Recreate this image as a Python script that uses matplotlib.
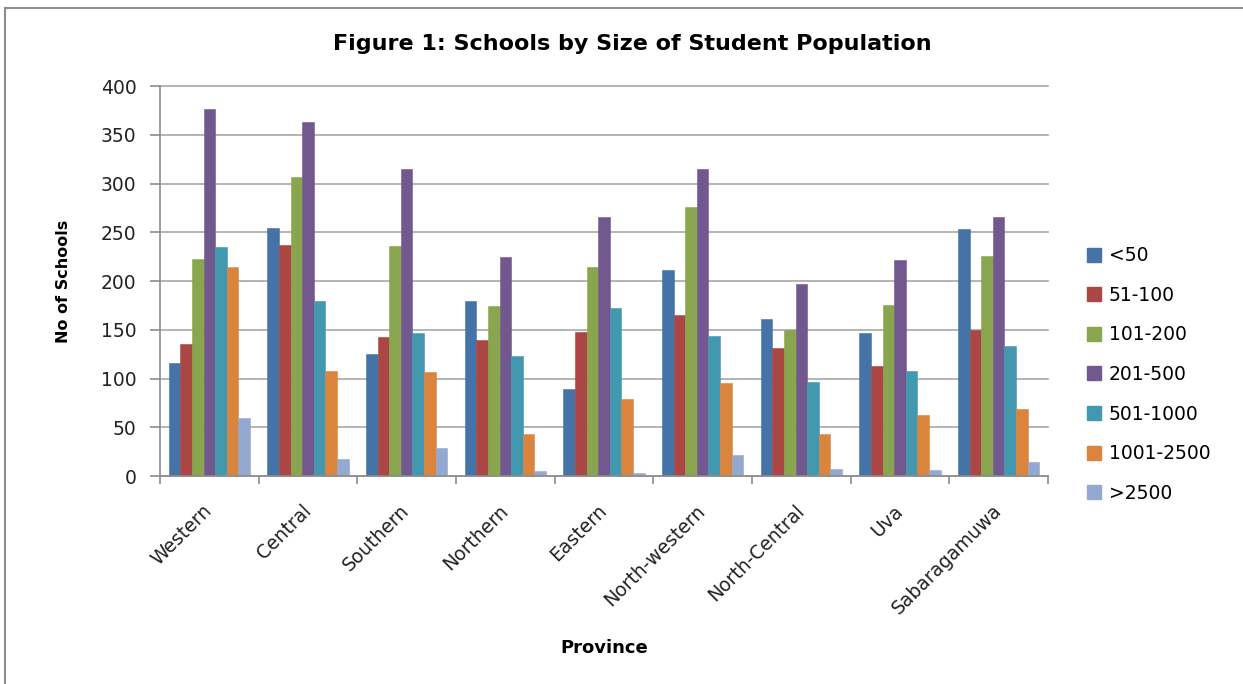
import numpy as np
import matplotlib
matplotlib.use("Agg")
import matplotlib.pyplot as plt
from matplotlib.lines import Line2D

plt.rcParams['font.family'] = ['DejaVu Sans']

# DATA
provinces = ['Western', 'Central', 'Southern', 'Northern', 'Eastern',
             'North-western', 'North-Central', 'Uva', 'Sabaragamuwa']
size_bands = ['<50', '51-100', '101-200', '201-500', '501-1000', '1001-2500', '>2500']

lt50 = [116, 255, 125, 180, 89, 211, 161, 147, 253]
s51_100 = [135, 237, 143, 140, 148, 165, 131, 113, 150]
s101_200 = [223, 307, 236, 174, 215, 276, 150, 175, 226]
s201_500 = [377, 363, 315, 225, 266, 315, 197, 222, 266]
s501_1000 = [235, 180, 147, 123, 172, 144, 96, 108, 133]
s1001_2500 = [214, 108, 107, 43, 79, 95, 43, 63, 69]
gt2500 = [60, 17, 29, 5, 3, 22, 7, 6, 14]

series = [lt50, s51_100, s101_200, s201_500, s501_1000, s1001_2500, gt2500]
colors = ['#4572A7', '#AA4643', '#89A54E', '#71588F', '#4198AF', '#DB843D', '#93A9CF']

# FIGURE
fig = plt.figure(figsize=(12.43, 6.84), dpi=100)
ax = fig.add_axes([0.1287, 0.304, 0.7144, 0.570])

x = np.arange(len(provinces))
bw = 0.1175
offsets = (np.arange(len(series)) - 3) * bw
for vals, off, col, lab in zip(series, offsets, colors, size_bands):
    ax.bar(x + off, vals, width=bw, color=col, label=lab,
           edgecolor=col, linewidth=0.4)

ax.set_xlim(-0.5, len(provinces) - 0.5)
ax.set_ylim(0, 400)
ax.set_yticks(np.arange(0, 401, 50))
ax.yaxis.grid(True, color='#A8A8A8', linewidth=1.2)
ax.set_axisbelow(True)
for gl in ax.get_ygridlines():
    gl.set_clip_on(False)

for s in ['top', 'right']:
    ax.spines[s].set_visible(False)
for s in ['left', 'bottom']:
    ax.spines[s].set_color('#8C8C8C')
    ax.spines[s].set_linewidth(1.2)

# category ticks sit on the group boundaries, labels at the centers
ax.set_xticks(x)
ax.set_xticks(np.arange(-0.5, len(provinces), 1), minor=True)
ax.tick_params(axis='x', which='major', length=0, pad=23)
ax.tick_params(axis='x', which='minor', length=6, color='#8C8C8C', width=1.2, direction='out')
ax.set_xticklabels(provinces, rotation=45, ha='right', va='center',
                   rotation_mode='anchor', fontsize=13.5, color='#222222')
ax.tick_params(axis='y', length=7, color='#8C8C8C', width=1.2, labelsize=13.5,
               labelcolor='#222222', pad=10)

ax.set_ylabel('No of Schools', fontsize=11.5, fontweight='bold')
ax.yaxis.set_label_coords(-0.100, 0.5)
fig.text(0.486, 0.053, 'Province', ha='center', va='center', fontsize=13, fontweight='bold')
fig.text(0.509, 0.936, 'Figure 1: Schools by Size of Student Population',
         ha='center', va='center', fontsize=16, fontweight='bold')

handles = [Line2D([0], [0], marker='s', linestyle='none', markersize=10,
                  markerfacecolor=c, markeredgecolor=c) for c in colors]
fig.legend(handles, size_bands, loc='center left', bbox_to_anchor=(0.874, 0.4525),
           frameon=False, fontsize=13.5, labelspacing=1.1, handlelength=0.8,
           handletextpad=0.4, borderpad=0, borderaxespad=0)

# outer chart frame (top and left edges visible in the original crop)
fig.add_artist(Line2D([0.004, 1.0], [0.988, 0.988], color='#8C8C8C', linewidth=1.5))
fig.add_artist(Line2D([0.004, 0.004], [0.0, 0.988], color='#8C8C8C', linewidth=1.5))

fig.savefig('out.png', dpi=100)
